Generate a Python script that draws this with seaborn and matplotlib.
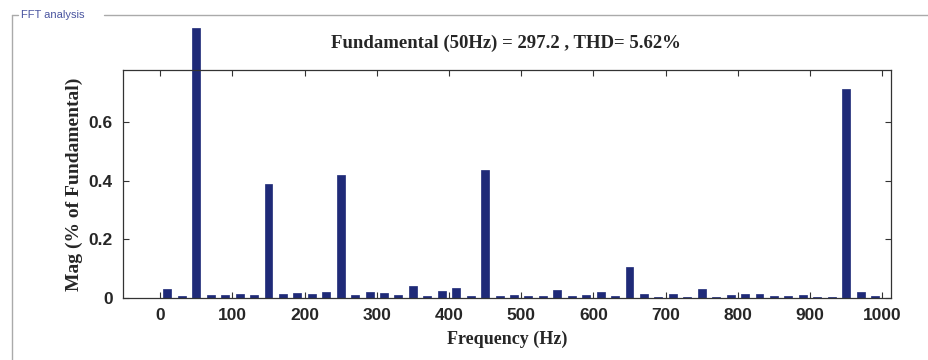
import matplotlib
matplotlib.use("Agg")
import matplotlib.pyplot as plt
import seaborn as sns
from matplotlib.lines import Line2D

# harmonic spectrum, bins every 20 Hz starting at 10 Hz
freqs = list(range(10, 1000, 20))
mags = [
    0.030, 0.008, 0.920, 0.012, 0.010, 0.015, 0.012, 0.390, 0.015, 0.018,
    0.015, 0.020, 0.420, 0.010, 0.020, 0.018, 0.012, 0.040, 0.008, 0.025,
    0.035, 0.006, 0.435, 0.006, 0.010, 0.008, 0.008, 0.027, 0.006, 0.012,
    0.020, 0.008, 0.106, 0.015, 0.004, 0.015, 0.004, 0.030, 0.004, 0.012,
    0.015, 0.014, 0.008, 0.006, 0.010, 0.004, 0.004, 0.712, 0.020, 0.006,
]
x_ticks = [0, 100, 200, 300, 400, 500, 600, 700, 800, 900, 1000]
y_ticks = [0, 0.2, 0.4, 0.6]
y_tick_labels = ["0", "0.2", "0.4", "0.6"]
title = "Fundamental (50Hz) = 297.2 , THD= 5.62%"

sns.set_style("white")
plt.rcParams["font.family"] = ["Liberation Sans Narrow", "Liberation Sans", "DejaVu Sans"]

fig = plt.figure(figsize=(9.29, 3.6), dpi=100)
ax = fig.add_axes([0.132, 0.172, 0.827, 0.634])

sns.barplot(x=freqs, y=mags, native_scale=True, width=0.55, color="#1F2A78",
            saturation=1, edgecolor="#1F2A78", linewidth=0.5, ax=ax, errorbar=None)
for p in ax.patches:
    p.set_clip_on(False)

ax.set_xlim(-52, 1012)
ax.set_ylim(0, 0.777)
ax.set_xticks(x_ticks)
ax.set_xticklabels([str(v) for v in x_ticks], fontsize=12.5, fontweight="bold")
ax.set_yticks(y_ticks)
ax.set_yticklabels(y_tick_labels, fontsize=12.5, fontweight="bold")
ax.tick_params(direction="in", length=4, width=0.8, top=True, right=True,
               bottom=True, left=True, color="#333333", pad=7)
for s in ax.spines.values():
    s.set_visible(True)
    s.set_color("#333333")
    s.set_linewidth(0.9)

ax.set_xlabel("Frequency (Hz)", fontsize=13, fontweight="bold",
              family="Liberation Serif", labelpad=6)
ax.set_ylabel("Mag (% of Fundamental)", fontsize=14, fontweight="bold",
              family="Liberation Serif", labelpad=4)
fig.text(0.545, 0.88, title, ha="center", va="center", fontsize=13.5,
         fontweight="bold", family="Liberation Serif")

# group box frame
fig.add_artist(Line2D([12 / 929, 18 / 929], [1 - 15 / 360] * 2, color="#aaaaaa", lw=1))
fig.add_artist(Line2D([104 / 929, 1.0], [1 - 15 / 360] * 2, color="#aaaaaa", lw=1))
fig.add_artist(Line2D([12 / 929] * 2, [1 - 15 / 360, 0.0], color="#aaaaaa", lw=1))
fig.text(21 / 929, 1 - 15 / 360, "FFT analysis", ha="left", va="center",
         fontsize=8, color="#4a55a0")

fig.savefig("out.png", dpi=100)
